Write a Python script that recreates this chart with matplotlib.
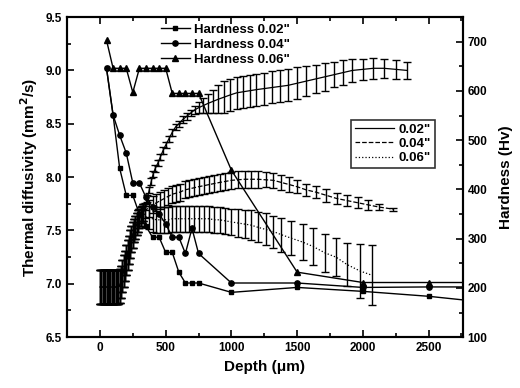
import numpy as np
import matplotlib
matplotlib.use("Agg")
import matplotlib.pyplot as plt
from matplotlib.ticker import MultipleLocator

plt.rcParams['font.family'] = ['Liberation Sans', 'DejaVu Sans']
plt.rcParams['font.weight'] = 'bold'

# --- thermal diffusivity (left axis) ---
# shared near-surface part of all three profiles
depth_start = [0, 10, 20, 30, 40, 50, 60, 70, 80, 90, 100, 110, 120, 130, 140, 150,
               160, 170, 180, 190, 200, 210, 220, 230, 240, 250, 260, 270, 280, 290,
               300, 310, 320, 330]
td_start = [6.97, 6.97, 6.97, 6.97, 6.97, 6.97, 6.97, 6.97, 6.97, 6.97, 6.97, 6.97,
            6.97, 6.97, 6.97, 6.98, 7.02, 7.07, 7.12, 7.17, 7.22, 7.27, 7.32, 7.37,
            7.42, 7.46, 7.50, 7.53, 7.56, 7.59, 7.61, 7.63, 7.65, 7.67]
err_start = [0.16, 0.16, 0.16, 0.16, 0.16, 0.16, 0.16, 0.16, 0.16, 0.16, 0.16, 0.16,
             0.16, 0.16, 0.16, 0.16, 0.15, 0.15, 0.15, 0.14, 0.14, 0.14, 0.13, 0.13,
             0.12, 0.12, 0.11, 0.11, 0.10, 0.10, 0.09, 0.09, 0.08, 0.08]

depth_02 = [345, 360, 375, 390, 405, 420, 440, 460, 480, 500, 525, 550, 575, 600, 630,
            660, 690, 720, 750, 785, 820, 860, 900, 945, 990, 1040, 1090, 1140, 1190,
            1250, 1310, 1370, 1430, 1500, 1570, 1640, 1710, 1780, 1850, 1920, 2000,
            2080, 2160, 2250, 2336]
td_02 = [7.72, 7.80, 7.88, 7.96, 8.03, 8.08, 8.13, 8.19, 8.25, 8.30, 8.36, 8.42, 8.47,
         8.50, 8.54, 8.57, 8.60, 8.63, 8.65, 8.67, 8.69, 8.71, 8.73, 8.75, 8.77, 8.79,
         8.80, 8.81, 8.82, 8.83, 8.84, 8.85, 8.86, 8.88, 8.90, 8.92, 8.94, 8.96, 8.98,
         9.00, 9.01, 9.02, 9.02, 9.01, 9.00]
err_02 = [0.03, 0.03, 0.03, 0.03, 0.03, 0.03, 0.03, 0.03, 0.03, 0.03, 0.03, 0.03, 0.03,
          0.03, 0.03, 0.03, 0.03, 0.04, 0.05, 0.07, 0.09, 0.11, 0.13, 0.15, 0.15, 0.15,
          0.15, 0.15, 0.15, 0.15, 0.15, 0.15, 0.15, 0.15, 0.14, 0.13, 0.13, 0.12, 0.12,
          0.11, 0.10, 0.10, 0.09, 0.09, 0.08]

depth_04 = [345, 370, 400, 430, 460, 490, 520, 550, 580, 610, 645, 680, 715, 750, 790,
            830, 870, 910, 955, 1000, 1050, 1100, 1150, 1200, 1260, 1320, 1380, 1440,
            1500, 1570, 1640, 1720, 1800, 1880, 1960, 2040, 2120, 2230]
td_04 = [7.69, 7.71, 7.74, 7.76, 7.78, 7.80, 7.82, 7.84, 7.85, 7.86, 7.88, 7.89, 7.90,
         7.91, 7.92, 7.93, 7.94, 7.95, 7.96, 7.97, 7.975, 7.98, 7.98, 7.98, 7.975, 7.97,
         7.95, 7.93, 7.91, 7.88, 7.86, 7.83, 7.80, 7.78, 7.76, 7.74, 7.72, 7.70]
err_04 = [0.07, 0.08, 0.08, 0.08, 0.08, 0.08, 0.08, 0.08, 0.08, 0.08, 0.08, 0.08, 0.08,
          0.08, 0.08, 0.08, 0.08, 0.08, 0.08, 0.08, 0.08, 0.08, 0.08, 0.08, 0.07, 0.07,
          0.07, 0.07, 0.06, 0.06, 0.06, 0.06, 0.05, 0.05, 0.05, 0.05, 0.03, 0.015]

depth_06 = [345, 370, 400, 430, 460, 490, 520, 550, 580, 610, 645, 680, 715, 750, 790,
            830, 870, 910, 955, 1000, 1050, 1100, 1150, 1200, 1260, 1320, 1380, 1450,
            1545, 1621, 1712, 1796, 1880, 1979, 2070]
td_06 = [7.63, 7.62, 7.61, 7.60, 7.60, 7.60, 7.60, 7.61, 7.61, 7.61, 7.61, 7.61, 7.61,
         7.61, 7.61, 7.61, 7.60, 7.60, 7.59, 7.58, 7.57, 7.56, 7.55, 7.53, 7.51, 7.49,
         7.46, 7.43, 7.39, 7.35, 7.29, 7.25, 7.18, 7.12, 7.08]
err_06 = [0.10, 0.11, 0.12, 0.12, 0.12, 0.12, 0.12, 0.12, 0.12, 0.12, 0.12, 0.12, 0.12,
          0.12, 0.12, 0.12, 0.12, 0.12, 0.12, 0.12, 0.13, 0.13, 0.14, 0.14, 0.15, 0.15,
          0.16, 0.16, 0.17, 0.17, 0.18, 0.18, 0.20, 0.25, 0.28]

# --- hardness (right axis) ---
depth_hv = [50, 100, 150, 200, 250, 300, 350, 400, 450, 500, 550, 600, 650, 700, 750,
            1000, 1500, 2000, 2500, 3000]
hv_02 = [646, 551, 443, 388, 388, 350, 325, 303, 303, 272, 272, 232, 210, 210, 210,
         191, 201, 193, 183, 169]
hv_04 = [646, 551, 510, 474, 413, 413, 384, 365, 350, 330, 303, 303, 270, 321, 270,
         210, 210, 201, 202, 202]
hv_06 = [703, 646, 646, 646, 597, 646, 646, 646, 646, 646, 595, 595, 595, 595, 595,
         439, 232, 211, 211, 211]

fig = plt.figure(figsize=(5.2, 3.88), dpi=100)
ax = fig.add_axes([0.129, 0.131, 0.761, 0.825])
ax2 = ax.twinx()

styles = [('-', '0.02"'), ('--', '0.04"'), (':', '0.06"')]
curves = [(depth_02, td_02, err_02), (depth_04, td_04, err_04), (depth_06, td_06, err_06)]
td_handles = []
for (ls, lab), (d, t, e) in zip(styles, curves):
    x = depth_start + d
    y = td_start + t
    yerr = err_start + e
    ax.errorbar(x, y, yerr=yerr, fmt='none', ecolor='black', elinewidth=1.0,
                capsize=3, capthick=1.0)
    h, = ax.plot(x, y, color='black', linestyle=ls, linewidth=0.9, label=lab)
    td_handles.append(h)

hv_handles = []
for hv, mk, lab, ms in [(hv_02, 's', 'Hardness 0.02"', 3.5),
                        (hv_04, 'o', 'Hardness 0.04"', 3.8),
                        (hv_06, '^', 'Hardness 0.06"', 4.5)]:
    h, = ax2.plot(depth_hv, hv, color='black', marker=mk, markersize=ms,
                  linewidth=1.0, label=lab)
    hv_handles.append(h)

ax.set_xlim(-250, 2760)
ax.set_ylim(6.5, 9.5)
ax2.set_ylim(100, 750)

ax.xaxis.set_major_locator(MultipleLocator(500))
ax.xaxis.set_minor_locator(MultipleLocator(250))
ax.yaxis.set_major_locator(MultipleLocator(0.5))
ax.yaxis.set_minor_locator(MultipleLocator(0.25))
ax2.yaxis.set_major_locator(MultipleLocator(100))
ax2.yaxis.set_minor_locator(MultipleLocator(50))
ax2.set_yticks([100, 200, 300, 400, 500, 600, 700])

ax.tick_params(axis='both', which='both', direction='in', top=True, labelsize=8.5,
               width=1.2)
ax.tick_params(which='major', length=5)
ax.tick_params(which='minor', length=3)
ax.tick_params(axis='y', right=False)
ax2.tick_params(axis='y', which='both', direction='in', labelsize=8.5, width=1.2)
ax2.tick_params(which='major', length=5)
ax2.tick_params(which='minor', length=3)
ax.set_yticklabels([f'{v:.1f}' for v in ax.get_yticks()])

for sp in ax.spines.values():
    sp.set_linewidth(1.5)
for sp in ax2.spines.values():
    sp.set_linewidth(1.5)

ax.set_xlabel('Depth (\u03bcm)', fontsize=11, fontweight='bold', labelpad=4)
ax.set_ylabel('Thermal diffusivity (mm$^\\mathbf{2}$/s)', fontsize=11, fontweight='bold')
ax2.set_ylabel('Hardness (Hv)', fontsize=11, fontweight='bold', labelpad=8)

leg1 = ax2.legend(handles=hv_handles, loc='upper left', bbox_to_anchor=(0.22, 1.0),
                  frameon=False, fontsize=9.5, handlelength=2.2, labelspacing=0.2,
                  borderaxespad=0.1, handletextpad=0.3)
ax2.add_artist(leg1)
leg2 = ax2.legend(handles=td_handles, loc='upper left', bbox_to_anchor=(0.7, 0.7),
                  frameon=True, fancybox=False, edgecolor='black', fontsize=9.5,
                  handlelength=3.0, labelspacing=0.15, borderpad=0.3,
                  handletextpad=0.3)
leg2.get_frame().set_linewidth(1.2)

fig.savefig('out.png', dpi=100)
